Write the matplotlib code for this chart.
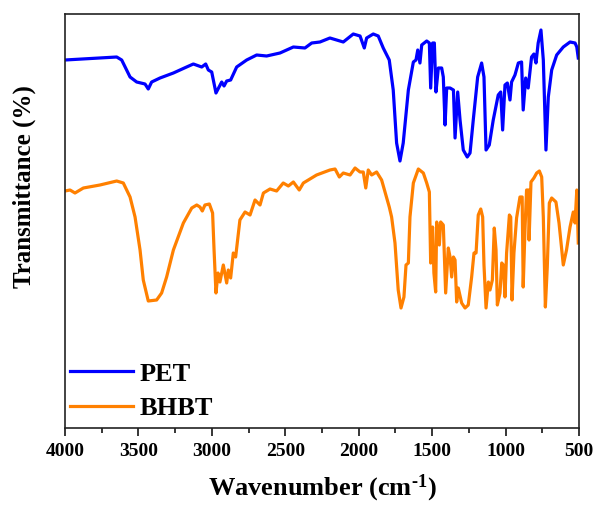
import matplotlib
matplotlib.use("Agg")
import matplotlib.pyplot as plt
from matplotlib.ticker import MultipleLocator

plt.rcParams['font.family'] = ['Liberation Serif', 'DejaVu Serif']
plt.rcParams['font.weight'] = 'bold'
plt.rcParams['mathtext.fontset'] = 'custom'
plt.rcParams['mathtext.rm'] = 'Liberation Serif:bold'
plt.rcParams['mathtext.default'] = 'rm'

# ---------------- data (wavenumber cm-1, transmittance a.u.) ----------------
pet_wn = [4000, 3648, 3614, 3557, 3512, 3455, 3433, 3410, 3353, 3262, 3172, 3126,
          3069, 3042, 3024, 3001, 2972, 2933, 2917, 2899, 2872, 2831, 2763, 2695,
          2627, 2536, 2445, 2366, 2320, 2264, 2196, 2105, 2037, 1991, 1962, 1946,
          1901, 1867, 1833, 1792, 1765, 1742, 1719, 1697, 1662, 1628, 1610, 1598,
          1583, 1571, 1537, 1519, 1510, 1497, 1485, 1474, 1458, 1435, 1424, 1412,
          1401, 1378, 1355, 1344, 1326, 1310, 1288, 1261, 1242, 1220, 1190, 1163,
          1147, 1133, 1111, 1084, 1050, 1033, 1020, 1004, 988, 970, 959, 936,
          913, 891, 880, 863, 846, 823, 807, 793, 778, 759, 743, 725,
          709, 686, 652, 607, 561, 527, 515, 505]
pet_t = [368, 371, 368, 351, 346, 344, 339, 346, 350, 355, 361, 364,
         361, 364, 358, 356, 335, 346, 342, 347, 348, 361, 368, 373,
         372, 375, 381, 380, 385, 386, 390, 386, 394, 392, 380, 390,
         394, 392, 380, 368, 338, 285, 267, 285, 338, 366, 368, 378,
         365, 383, 387, 385, 340, 385, 385, 336, 360, 360, 351, 303,
         340, 340, 338, 290, 336, 308, 278, 271, 275, 308, 351, 365,
         351, 278, 283, 308, 333, 336, 298, 343, 345, 328, 346, 353,
         365, 366, 318, 350, 340, 371, 374, 365, 385, 398, 368, 278,
         331, 358, 373, 381, 386, 385, 381, 370]

bhbt_wn = [4000, 3966, 3932, 3875, 3762, 3648, 3603, 3557, 3523, 3489, 3467, 3433,
           3376, 3342, 3308, 3262, 3194, 3137, 3103, 3081, 3065, 3047, 3017, 2995,
           2985, 2972, 2958, 2945, 2922, 2899, 2888, 2872, 2854, 2838, 2809, 2774,
           2740, 2706, 2672, 2649, 2604, 2559, 2514, 2479, 2445, 2405, 2377, 2287,
           2196, 2161, 2132, 2105, 2059, 2025, 1991, 1969, 1952, 1935, 1912, 1878,
           1844, 1821, 1792, 1776, 1753, 1731, 1712, 1692, 1678, 1662, 1651, 1628,
           1594, 1560, 1537, 1519, 1510, 1497, 1488, 1476, 1469, 1451, 1442, 1424,
           1408, 1390, 1378, 1367, 1355, 1344, 1333, 1322, 1299, 1276, 1254, 1231,
           1215, 1201, 1186, 1169, 1156, 1147, 1133, 1117, 1106, 1090, 1077, 1065,
           1056, 1038, 1026, 1015, 1004, 993, 974, 965, 956, 943, 925, 902,
           887, 880, 868, 857, 844, 840, 827, 807, 788, 770, 754, 743,
           729, 716, 702, 686, 657, 636, 607, 585, 561, 539, 527, 515, 505]
bhbt_t = [237, 238, 235, 240, 243, 247, 245, 231, 211, 178, 148, 127,
          128, 135, 151, 178, 205, 220, 223, 221, 217, 223, 224, 215,
          178, 135, 155, 146, 163, 145, 158, 150, 175, 171, 208, 216,
          213, 228, 223, 235, 239, 237, 245, 242, 246, 238, 245, 253,
          258, 259, 251, 255, 253, 260, 256, 256, 240, 258, 253, 256,
          248, 236, 221, 211, 185, 138, 120, 131, 163, 165, 211, 245,
          259, 255, 245, 236, 165, 201, 155, 136, 206, 183, 206, 203,
          135, 180, 171, 151, 171, 168, 126, 140, 125, 120, 123, 151,
          175, 175, 213, 219, 211, 163, 120, 146, 138, 148, 200, 178,
          123, 135, 165, 163, 131, 175, 213, 211, 128, 175, 210, 231,
          231, 141, 198, 238, 238, 188, 246, 250, 255, 257, 251, 211,
          121, 161, 225, 230, 226, 205, 163, 178, 201, 216, 205, 238, 185]

xticks = [4000, 3500, 3000, 2500, 2000, 1500, 1000, 500]

# ---------------- figure ----------------
fig = plt.figure(figsize=(5.95, 5.07), dpi=100)
ax = fig.add_axes([65/595, 1-428/507, 514/595, 414/507])

ax.plot(pet_wn, pet_t, color='#0000FF', lw=2.3, label='PET', solid_joinstyle='round')
ax.plot(bhbt_wn, bhbt_t, color='#FF8000', lw=2.3, label='BHBT', solid_joinstyle='round')

ax.set_xlim(4000, 500)
ax.set_ylim(0, 414)
ax.set_xticks(xticks)
ax.set_xticklabels([str(v) for v in xticks])
ax.xaxis.set_minor_locator(MultipleLocator(250))
ax.set_yticks([])
ax.tick_params(axis='x', which='major', direction='out', length=6, width=1.1,
               labelsize=14, pad=5)
ax.tick_params(axis='x', which='minor', direction='out', length=3.5, width=1.1)
for s in ax.spines.values():
    s.set_linewidth(1.2)
    s.set_color('#222222')
for lab in ax.get_xticklabels():
    lab.set_fontweight('bold')

ax.set_xlabel(r'Wavenumber (cm$^{\text{-1}}$)', fontsize=19, fontweight='bold', labelpad=9)
ax.set_ylabel('Transmittance (%)', fontsize=18, fontweight='bold')
ax.yaxis.set_label_coords(-0.057, 0.582)

leg = ax.legend(loc='lower left', bbox_to_anchor=(-0.022, -0.02), frameon=False,
                prop={'family': 'Liberation Serif', 'weight': 'bold', 'size': 19},
                handlelength=2.4, handletextpad=0.25, labelspacing=0.43,
                borderaxespad=0.2)

fig.savefig('out.png', dpi=100)
